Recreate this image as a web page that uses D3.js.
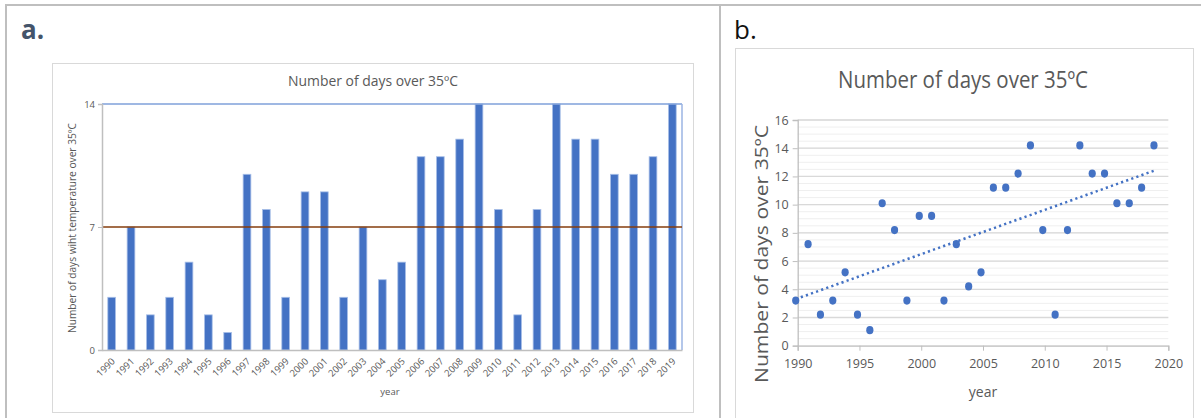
<!DOCTYPE html>
<html>
<head>
<script src="https://d3js.org/d3.v7.min.js"></script>
<style>
  body {margin:0; background:#fff;}
  text {font-family:"Open Sans", sans-serif; fill:#595959;}
</style>
</head>
<body>
<svg id="chart" width="1201" height="418"></svg>
<script>
// data
const years = [1990,1991,1992,1993,1994,1995,1996,1997,1998,1999,
               2000,2001,2002,2003,2004,2005,2006,2007,2008,2009,
               2010,2011,2012,2013,2014,2015,2016,2017,2018,2019];
const daysA = [3,7,2,3,5,2,1,10,8,3,9,9,3,7,4,5,11,11,12,14,8,2,8,14,12,12,10,10,11,14];
const daysB = [3.2,7.2,2.2,3.2,5.2,2.2,1.1,10.1,8.2,3.2,9.2,9.2,3.2,7.2,4.2,5.2,11.2,11.2,12.2,14.2,
               8.2,2.2,8.2,14.2,12.2,12.2,10.1,10.1,11.2,14.2];
const ticksA = [0,7,14];
const ticksB = [0,2,4,6,8,10,12,14,16];
const xTicksB = [1990,1995,2000,2005,2010,2015,2020];

const svg = d3.select("#chart");
svg.append("rect").attr("width",1201).attr("height",418).attr("fill","#fff");

// outer frame
svg.append("line").attr("x1",5).attr("x2",1201).attr("y1",5).attr("y2",5)
   .attr("stroke","#bfbfbf").attr("stroke-width",2);
svg.append("line").attr("x1",6).attr("x2",6).attr("y1",4).attr("y2",418)
   .attr("stroke","#bfbfbf").attr("stroke-width",2);
svg.append("line").attr("x1",720).attr("x2",720).attr("y1",4).attr("y2",418)
   .attr("stroke","#bfbfbf").attr("stroke-width",2);

// ---------- panel a ----------
svg.append("text").attr("x",21).attr("y",39).text("a.")
   .style("font-size","26px").style("font-weight","bold").style("fill","#44546a");
svg.append("rect").attr("x",52.5).attr("y",63.5).attr("width",641).attr("height",349)
   .attr("fill","none").attr("stroke","#d9d9d9");

const xa = d3.scaleBand().domain(years).range([102,682]).paddingInner(0.6).paddingOuter(0.3);
const ya = d3.scaleLinear().domain([0,14]).range([350,104]);

svg.append("text").attr("x",373).attr("y",86).attr("text-anchor","middle")
   .text("Number of days over 35ºC").style("font-size","14px")
   .attr("textLength",170).attr("lengthAdjust","spacingAndGlyphs");

const ga = svg.append("g");
ga.selectAll("rect.bar").data(daysA).join("rect").attr("class","bar")
  .attr("x",(d,i)=>xa(years[i])).attr("width",xa.bandwidth())
  .attr("y",d=>ya(d)).attr("height",d=>ya(0)-ya(d))
  .attr("fill","#4472c4").attr("stroke","#a9c0e8").attr("stroke-width",0.8);

// reference lines
ga.append("line").attr("x1",102).attr("x2",682).attr("y1",ya(14)).attr("y2",ya(14))
  .attr("stroke","#7fa0da").attr("stroke-width",1.5);
ga.append("line").attr("x1",682).attr("x2",682).attr("y1",ya(14)).attr("y2",ya(0))
  .attr("stroke","#9bb5e3").attr("stroke-width",1.5);
ga.append("line").attr("x1",102).attr("x2",682).attr("y1",ya(7)).attr("y2",ya(7))
  .attr("stroke","#843c0c").attr("stroke-width",1.3);

const yAxisA = ga.append("g").attr("transform","translate(102,0)")
  .call(d3.axisLeft(ya).tickValues(ticksA).tickSize(4).tickPadding(3));
yAxisA.select(".domain").attr("stroke","#bfbfbf").attr("stroke-width",1.5);
yAxisA.selectAll(".tick line").attr("stroke","#bfbfbf");
yAxisA.selectAll("text").style("font-size","9.5px").attr("fill","#595959");

const xAxisA = ga.append("g").attr("transform","translate(0,350)")
  .call(d3.axisBottom(xa).tickSize(0).tickPadding(0));
xAxisA.select(".domain").attr("stroke","#bfbfbf").attr("stroke-width",1.5);
xAxisA.selectAll("text").style("font-size","9.5px").attr("fill","#595959")
  .attr("text-anchor","end").attr("dy",null).attr("y",0)
  .attr("transform","translate(4,12) rotate(-45)");

svg.append("text").attr("transform","translate(76,228) rotate(-90)").attr("text-anchor","middle")
   .text("Number of days wiht temperature over 35ºC").style("font-size","10px")
   .attr("textLength",210).attr("lengthAdjust","spacingAndGlyphs");
svg.append("text").attr("x",390).attr("y",395).attr("text-anchor","middle")
   .text("year").style("font-size","9.5px");

// ---------- panel b ----------
svg.append("text").attr("x",734).attr("y",39).text("b.")
   .style("font-size","26px").style("fill","#111");
svg.append("rect").attr("x",735.5).attr("y",48.5).attr("width",458).attr("height",380)
   .attr("fill","none").attr("stroke","#d9d9d9");

const xb = d3.scaleLinear().domain([1990,2020]).range([797.7,1168.3]);
const yb = d3.scaleLinear().domain([0,16]).range([345.7,120]);

svg.append("text").attr("x",963).attr("y",88).attr("text-anchor","middle")
   .text("Number of days over 35ºC").style("font-size","23px")
   .attr("textLength",250).attr("lengthAdjust","spacingAndGlyphs");

const gb = svg.append("g");
// minor grid
gb.selectAll("line.minor").data(yb.ticks(40)).join("line").attr("class","minor")
  .attr("x1",xb(1990)).attr("x2",xb(2020)).attr("y1",d=>yb(d)).attr("y2",d=>yb(d))
  .attr("stroke","#efefef").attr("stroke-width",1);
// major grid
gb.selectAll("line.major").data(ticksB.slice(1)).join("line").attr("class","major")
  .attr("x1",xb(1990)).attr("x2",xb(2020)).attr("y1",d=>yb(d)).attr("y2",d=>yb(d))
  .attr("stroke","#d9d9d9").attr("stroke-width",1.3);

const yAxisB = gb.append("g").attr("transform",`translate(${xb(1990)},0)`)
  .call(d3.axisLeft(yb).tickValues(ticksB).tickSize(5).tickPadding(4));
yAxisB.select(".domain").attr("stroke","#bfbfbf").attr("stroke-width",1.3);
yAxisB.selectAll(".tick line").attr("stroke","#bfbfbf");
yAxisB.selectAll("text").style("font-size","12.5px").attr("fill","#595959");

const xAxisB = gb.append("g").attr("transform",`translate(0,${yb(0)})`)
  .call(d3.axisBottom(xb).tickValues(xTicksB).tickFormat(d3.format("d")).tickSize(5).tickPadding(8));
xAxisB.select(".domain").attr("stroke","#bfbfbf").attr("stroke-width",1.3);
xAxisB.selectAll(".tick line").attr("stroke","#bfbfbf");
xAxisB.selectAll("text").style("font-size","12.5px").attr("fill","#595959");

// linear trend fitted on the points
const xShift = -0.16;
const px = years.map(y => y + xShift);
const mx = d3.mean(px), my = d3.mean(daysB);
const slope = d3.sum(px, (x,i)=>(x-mx)*(daysB[i]-my)) / d3.sum(px, x=>(x-mx)*(x-mx));
const icpt = my - slope*mx;
const x0 = px[0], x1 = px[px.length-1];
gb.append("line").attr("x1",xb(x0)).attr("x2",xb(x1))
  .attr("y1",yb(icpt+slope*x0)).attr("y2",yb(icpt+slope*x1))
  .attr("stroke","#4472c4").attr("stroke-width",2.5)
  .attr("stroke-dasharray","2.2,3.2");

gb.selectAll("ellipse.pt").data(daysB).join("ellipse").attr("class","pt")
  .attr("cx",(d,i)=>xb(px[i])).attr("cy",d=>yb(d)).attr("rx",3.6).attr("ry",4.1)
  .attr("fill","#4472c4");

svg.append("text").attr("transform","translate(768,254) rotate(-90)").attr("text-anchor","middle")
   .text("Number of days over 35ºC").style("font-size","19px")
   .attr("textLength",258).attr("lengthAdjust","spacingAndGlyphs");
svg.append("text").attr("x",983).attr("y",397).attr("text-anchor","middle")
   .text("year").style("font-size","14px");
</script>
</body>
</html>
